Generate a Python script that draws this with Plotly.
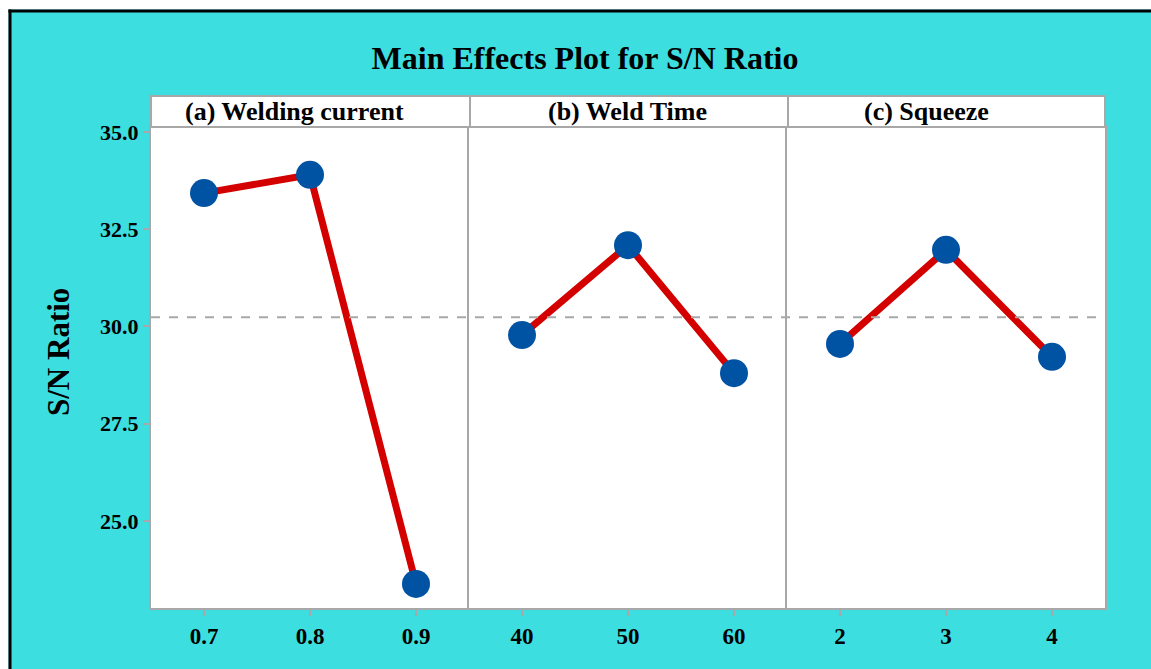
import plotly.graph_objects as go
from plotly.subplots import make_subplots

# ---- data ----
panel_titles = ["(a) Welding current", "(b) Weld Time", "(c) Squeeze"]
current_levels = [0.7, 0.8, 0.9]
current_sn = [33.43, 33.90, 23.38]
time_levels = [40, 50, 60]
time_sn = [29.78, 32.09, 28.80]
squeeze_levels = [2, 3, 4]
squeeze_sn = [29.55, 31.97, 29.22]
y_ticks = [25.0, 27.5, 30.0, 32.5, 35.0]
y_ticktext = ["25.0", "27.5", "30.0", "32.5", "35.0"]

W, H = 1151, 669
L, R, T, B = 151, 46, 127, 61
PW, PH = W - L - R, H - T - B

def px2x(px):
    return (px - L) / PW

def py2y(py):
    return (H - B - py) / PH

FONT = "Liberation Serif"
CYAN = "#3CDEDF"
GRAY = "#A8A8A8"

fig = make_subplots(rows=1, cols=3, shared_yaxes=True, horizontal_spacing=0)

series = [(current_levels, current_sn), (time_levels, time_sn), (squeeze_levels, squeeze_sn)]
for i, (xs, ys) in enumerate(series, start=1):
    fig.add_trace(go.Scatter(
        x=xs, y=ys, mode="lines+markers",
        line=dict(color="#D40000", width=7),
        marker=dict(color="#0052A3", size=28, line=dict(width=0)),
        showlegend=False, hoverinfo="x+y"), row=1, col=i)

xranges = [[0.65, 0.95], [35, 65], [1.5, 4.5]]
for i in range(3):
    xs = series[i][0]
    fig.update_xaxes(
        range=xranges[i], tickvals=xs,
        ticktext=[str(v) for v in xs],
        showgrid=False, zeroline=False,
        showline=True, mirror=True, linecolor=GRAY, linewidth=2,
        ticks="outside", ticklen=6, tickwidth=2, tickcolor=GRAY,
        tickfont=dict(family=FONT, size=23, color="black", weight="bold"),
        row=1, col=i + 1)

fig.update_yaxes(
    range=[22.76, 35.13], showgrid=False, zeroline=False,
    showline=True, mirror=False, linecolor=GRAY, linewidth=2)
fig.update_yaxes(mirror=True, row=1, col=3)
fig.update_yaxes(
    tickvals=y_ticks, ticktext=y_ticktext,
    ticks="outside", ticklen=6, tickwidth=2, tickcolor=GRAY,
    tickfont=dict(family=FONT, size=22, color="black", weight="bold"),
    row=1, col=1)

all_sn = current_sn + time_sn + squeeze_sn
grand_mean = sum(all_sn) / len(all_sn)

shapes = [
    # overall mean reference line
    dict(type="line", xref="paper", yref="y", x0=0, x1=1,
         y0=grand_mean, y1=grand_mean,
         line=dict(color=GRAY, width=2, dash="dash"), layer="above"),
    # white margin at top and left with black border
    dict(type="rect", xref="paper", yref="paper",
         x0=px2x(-5), x1=px2x(W + 5), y0=py2y(9.5), y1=py2y(-5),
         fillcolor="white", line=dict(width=0), layer="above"),
    dict(type="rect", xref="paper", yref="paper",
         x0=px2x(-5), x1=px2x(8.5), y0=py2y(H + 5), y1=py2y(-5),
         fillcolor="white", line=dict(width=0), layer="above"),
    dict(type="line", xref="paper", yref="paper",
         x0=px2x(8.5), x1=px2x(W + 5), y0=py2y(11), y1=py2y(11),
         line=dict(color="black", width=3), layer="above"),
    dict(type="line", xref="paper", yref="paper",
         x0=px2x(10), x1=px2x(10), y0=py2y(9.5), y1=py2y(H + 5),
         line=dict(color="black", width=3), layer="above"),
]

panel_edges = [(151, 470), (470, 788), (788, 1105)]
label_centers = [294, 627, 926]
annotations = []
for (x0, x1), cx, title in zip(panel_edges, label_centers, panel_titles):
    shapes.append(dict(type="rect", xref="paper", yref="paper",
                       x0=px2x(x0), x1=px2x(x1), y0=py2y(127), y1=py2y(96),
                       fillcolor="white", line=dict(color=GRAY, width=2),
                       layer="above"))
    annotations.append(dict(text=title, xref="paper", yref="paper",
                            x=px2x(cx), y=py2y(111.5), xanchor="center",
                            yanchor="middle", showarrow=False,
                            font=dict(family=FONT, size=26, color="black",
                                      weight="bold")))

annotations.append(dict(text="S/N Ratio", xref="paper", yref="paper",
                        x=px2x(58), y=py2y(352), xanchor="center",
                        yanchor="middle", textangle=-90, showarrow=False,
                        font=dict(family=FONT, size=31, color="black",
                                  weight="bold")))

fig.update_layout(
    width=W, height=H,
    margin=dict(l=L, r=R, t=T, b=B),
    paper_bgcolor=CYAN, plot_bgcolor="white",
    title=dict(text="Main Effects Plot for S/N Ratio",
               x=585 / W, xanchor="center", y=1 - 58 / H, yanchor="middle",
               font=dict(family=FONT, size=32, color="black", weight="bold")),
    shapes=shapes, annotations=annotations,
)

fig.write_html("out.html")
